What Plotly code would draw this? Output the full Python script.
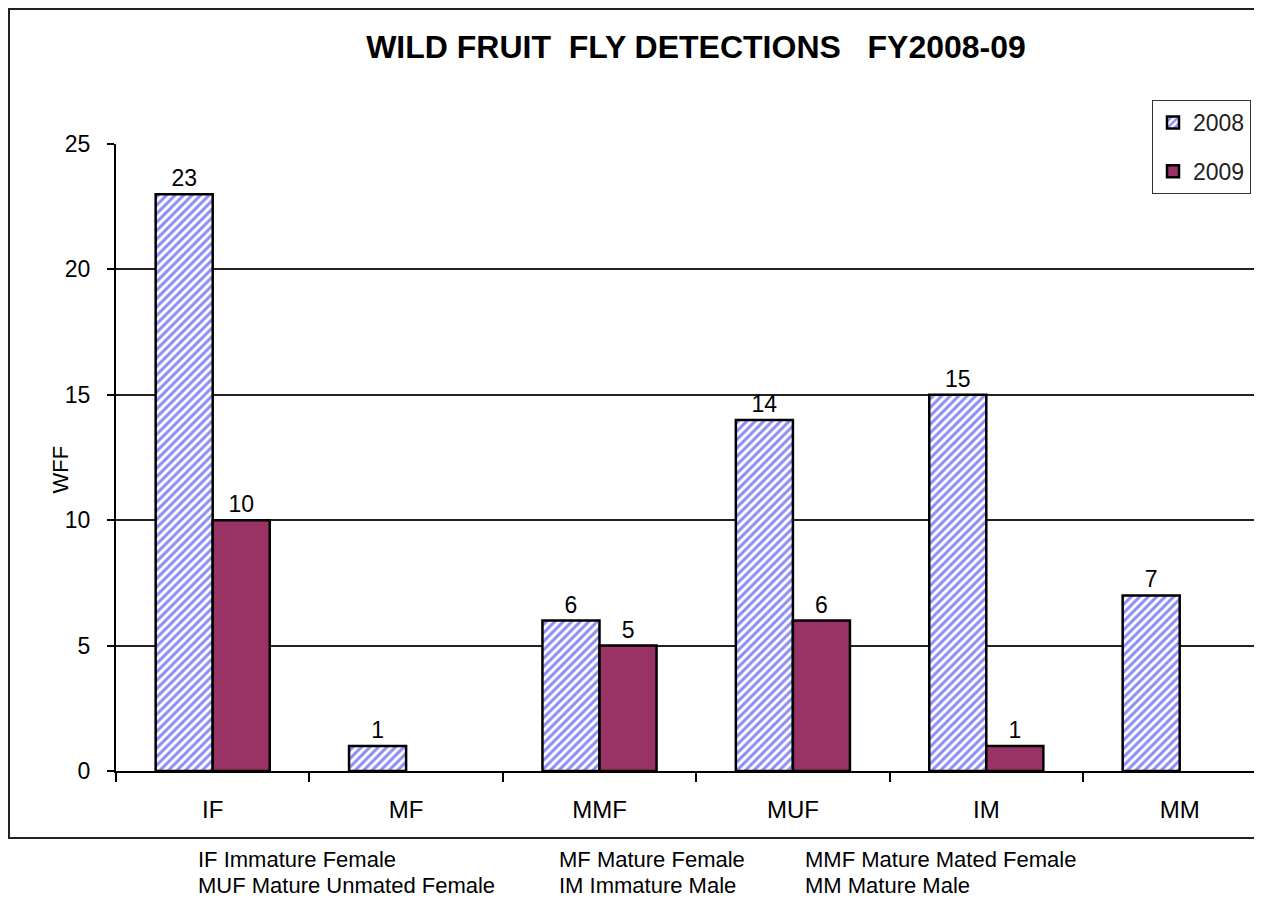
import plotly.graph_objects as go

# category codes on the x axis
categories = ["IF", "MF", "MMF", "MUF", "IM", "MM"]
wff_2008 = [23, 1, 6, 14, 15, 7]
wff_2009 = [10, None, 5, 6, 1, None]
y_ticks = [0, 5, 10, 15, 20, 25]

# key printed under the chart, two lines in three columns
key_lines = [
   ["IF Immature Female", "MF Mature Female", "MMF Mature Mated Female"],
   ["MUF Mature Unmated Female", "IM Immature Male", "MM Mature Male"],
]

# the page puts the figure 8px in from the top-left corner
OFF = 8
W, H = 1262 - OFF, 901 - OFF
L, R, T = 116 - OFF, 0, 144 - OFF
B = H - (771 - OFF)
pw, ph = W - L - R, H - T - B


def px_x(x):
   # screen pixel -> paper x
   return (x - OFF - L) / pw


def px_y(y):
   # screen pixel -> paper y
   return (H - B - (y - OFF)) / ph


FONT = "Arial, Liberation Sans, sans-serif"

fig = go.Figure()

fig.add_trace(go.Bar(
   x=categories, y=wff_2008, name="2008", legendgroup="a",
   text=[str(v) for v in wff_2008], textposition="outside",
   textfont=dict(size=23, color="black", family=FONT),
   cliponaxis=False,
   marker=dict(
      color="white",
      line=dict(color="black", width=2.5),
      pattern=dict(shape="/", fgcolor="#8c8cf5", bgcolor="white",
                   size=6, solidity=0.5, fillmode="replace"),
   ),
))
fig.add_trace(go.Bar(
   x=categories, y=wff_2009, name="2009", legendgroup="b",
   text=[str(v) if v is not None else "" for v in wff_2009],
   textposition="outside",
   textfont=dict(size=23, color="black", family=FONT),
   cliponaxis=False,
   marker=dict(color="#993366", line=dict(color="black", width=2.5)),
))

fig.update_layout(
   width=W, height=H,
   margin=dict(l=L, r=R, t=T, b=B),
   paper_bgcolor="white", plot_bgcolor="white",
   barmode="group", bargap=0.41, bargroupgap=0,
   font=dict(family=FONT, color="black", size=20),
   title=dict(
      text="<b>WILD FRUIT &nbsp;FLY DETECTIONS &nbsp; FY2008-09</b>",
      x=px_x(696), xref="paper", xanchor="center",
      y=1 - (47 - OFF) / H, yref="container", yanchor="middle",
      font=dict(size=32, family=FONT, color="black"),
   ),
   legend=dict(
      x=px_x(1152), y=px_y(100), xanchor="left", yanchor="top",
      bordercolor="#333", borderwidth=1, bgcolor="white",
      font=dict(size=23, family=FONT, color="#222"),
      tracegroupgap=16, itemwidth=30,
   ),
   showlegend=True,
)

fig.update_xaxes(
   type="category", range=[-0.5, -0.5 + (1262 - 116) / 193.4],
   showline=True, linecolor="black", linewidth=2,
   ticks="outside", tickson="boundaries", ticklen=9, tickcolor="black",
   tickwidth=2, showgrid=False, ticklabelstandoff=16,
   tickfont=dict(size=24, family=FONT, color="black"),
)
fig.update_yaxes(
   range=[0, 25], tickvals=y_ticks,
   showline=True, linecolor="black", linewidth=2,
   ticks="outside", ticklen=7, tickcolor="black", tickwidth=2,
   showgrid=True, gridcolor="#222", gridwidth=1.5,
   zeroline=False, ticklabelstandoff=12,
   tickfont=dict(size=23, family=FONT, color="black"),
)

# outer chart border (kept just inside the figure's own edge)
fig.add_shape(type="rect", xref="paper", yref="paper",
              x0=px_x(9), x1=px_x(1266), y0=px_y(838), y1=px_y(9),
              line=dict(color="#222", width=2), layer="below")

fig.add_annotation(
   text="WFF", textangle=-90, xref="paper", yref="paper",
   x=px_x(45), y=px_y(470), showarrow=False,
   font=dict(size=22, family=FONT, color="black"),
)

col_x = [196, 557, 803]
row_y = [859, 886]
for r, line in enumerate(key_lines):
   for c, txt in enumerate(line):
      fig.add_annotation(
         text=txt, xref="paper", yref="paper",
         x=px_x(col_x[c]), y=px_y(row_y[r]), xanchor="left", yanchor="middle",
         showarrow=False,
         font=dict(size=22, family=FONT, color="black"),
      )

fig.write_html("out.html")
